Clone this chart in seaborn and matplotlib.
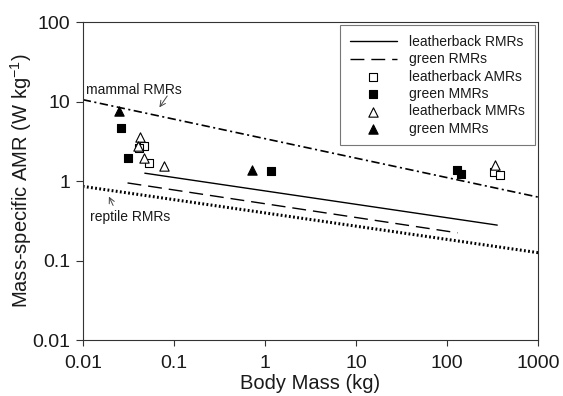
import numpy as np
import pandas as pd
import matplotlib
matplotlib.use("Agg")
import matplotlib.pyplot as plt
import seaborn as sns

# Dados lidos do grafico
# linhas de regressao (extremos em massa, taxa)
mammal_mass = [0.01, 1000]
mammal_rate = [10.6, 0.63]
reptile_mass = [0.01, 1000]
reptile_rate = [0.86, 0.126]
lb_rmr_mass = [0.048, 355]
lb_rmr_rate = [1.26, 0.28]
gr_rmr_mass = [0.031, 130]
gr_rmr_rate = [0.95, 0.224]

# pontos
lb_amr_mass = [0.047, 0.041, 0.054, 330, 376]
lb_amr_rate = [2.8, 2.6, 1.68, 1.31, 1.19]
gr_amr_mass = [0.026, 0.031, 1.16, 128, 143]
gr_amr_rate = [4.7, 1.98, 1.36, 1.38, 1.22]
lb_mmr_mass = [0.043, 0.040, 0.047, 0.078, 336]
lb_mmr_rate = [3.6, 2.8, 1.98, 1.55, 1.58]
gr_mmr_mass = [0.025, 0.73]
gr_mmr_rate = [7.6, 1.38]

sns.set_style("ticks")
plt.rcParams['font.family'] = ['Liberation Sans', 'DejaVu Sans']
plt.rcParams['mathtext.fontset'] = 'custom'
plt.rcParams['mathtext.rm'] = 'Liberation Sans'
plt.rcParams['mathtext.default'] = 'regular'
plt.rcParams['lines.scale_dashes'] = False
plt.rcParams['text.color'] = '#1a1a1a'
plt.rcParams['xtick.color'] = '#333333'
plt.rcParams['ytick.color'] = '#333333'
plt.rcParams['xtick.labelcolor'] = '#1a1a1a'
plt.rcParams['ytick.labelcolor'] = '#1a1a1a'
plt.rcParams['axes.labelcolor'] = '#1a1a1a'

fig, ax = plt.subplots(figsize=(5.63, 3.96), dpi=100)
fig.subplots_adjust(left=0.147, right=0.956, top=0.944, bottom=0.141)

# linhas
sns.lineplot(x=mammal_mass, y=mammal_rate, ax=ax, color='black', lw=1.2,
             linestyle=(0, (6, 2.5, 1.5, 2.5)), legend=False)
sns.lineplot(x=reptile_mass, y=reptile_rate, ax=ax, color='black', lw=2.2,
             linestyle=(0, (1.3, 1.7)), legend=False)
sns.lineplot(x=lb_rmr_mass, y=lb_rmr_rate, ax=ax, color='black', lw=1.0,
             label='leatherback RMRs')
sns.lineplot(x=gr_rmr_mass, y=gr_rmr_rate, ax=ax, color='black', lw=1.0,
             linestyle=(0, (10, 5)), label='green RMRs')

# pontos
sns.scatterplot(x=lb_amr_mass, y=lb_amr_rate, ax=ax, marker='s', s=38,
                facecolor='white', edgecolor='black', linewidth=0.8,
                label='leatherback AMRs', zorder=3)
sns.scatterplot(x=gr_amr_mass, y=gr_amr_rate, ax=ax, marker='s', s=38,
                color='black', edgecolor='black', linewidth=0.8,
                label='green MMRs', zorder=3)
sns.scatterplot(x=lb_mmr_mass, y=lb_mmr_rate, ax=ax, marker='^', s=45,
                facecolor='white', edgecolor='black', linewidth=0.8,
                label='leatherback MMRs', zorder=3)
sns.scatterplot(x=gr_mmr_mass, y=gr_mmr_rate, ax=ax, marker='^', s=45,
                color='black', edgecolor='black', linewidth=0.8,
                label='green MMRs', zorder=3)

ax.set_xscale('log')
ax.set_yscale('log')
ax.set_xlim(0.01, 1000)
ax.set_ylim(0.01, 100)
ax.set_xticks([0.01, 0.1, 1, 10, 100, 1000])
ax.set_xticklabels(['0.01', '0.1', '1', '10', '100', '1000'])
ax.set_yticks([0.01, 0.1, 1, 10, 100])
ax.set_yticklabels(['0.01', '0.1', '1', '10', '100'])
ax.minorticks_off()
ax.tick_params(labelsize=14, length=4, width=0.8, direction='out')
ax.tick_params(axis='x', pad=7)
ax.tick_params(axis='y', pad=4, length=5)
for sp in ax.spines.values():
    sp.set_linewidth(0.8)
    sp.set_color('#333333')

ax.set_xlabel('Body Mass (kg)', fontsize=14.5, labelpad=1)
ax.set_ylabel('Mass-specific AMR (W kg$^{-1}$)', fontsize=14.5, labelpad=-1)

# anotacoes
ax.text(0.036, 14.1, 'mammal RMRs', fontsize=10, ha='center', va='center')
ax.annotate('', xy=(0.0667, 7.94), xytext=(0.088, 12.6),
            arrowprops=dict(arrowstyle='->', color='#444444', lw=0.7))
ax.text(0.0328, 0.355, 'reptile RMRs', fontsize=10, ha='center', va='center')
ax.annotate('', xy=(0.0188, 0.688), xytext=(0.0222, 0.46),
            arrowprops=dict(arrowstyle='->', color='#444444', lw=0.7))

leg = ax.legend(loc='upper right', bbox_to_anchor=(0.993, 0.99), borderaxespad=0,
                fontsize=10, frameon=True, fancybox=False, handlelength=3.4,
                labelspacing=0.24, handletextpad=0.9, borderpad=0.7)
leg.get_frame().set_edgecolor('#555555')
leg.get_frame().set_linewidth(0.8)

fig.savefig('out.png', dpi=100)
